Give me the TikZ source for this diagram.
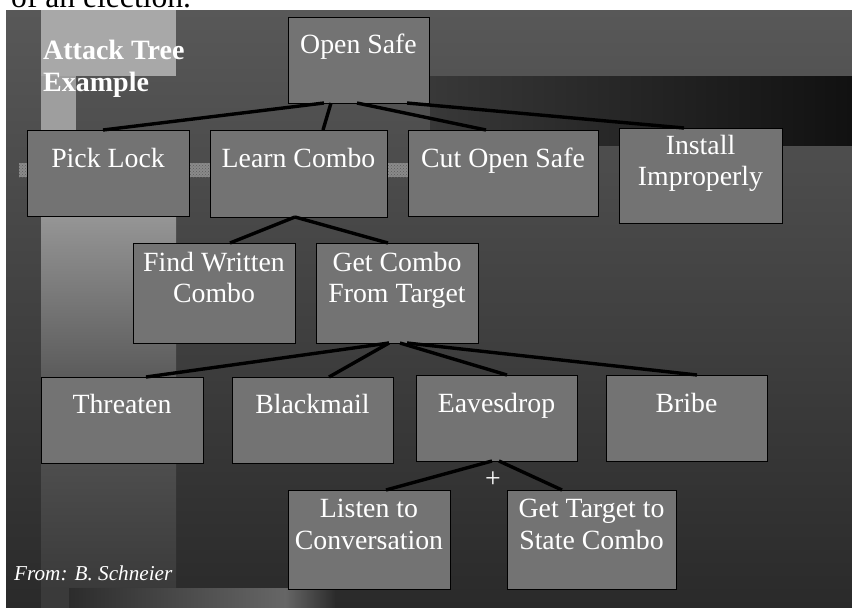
\documentclass[tikz,border=0pt]{standalone}
\usepackage{fontspec}
\setmainfont{Liberation Serif}
\usetikzlibrary{patterns}
\definecolor{boxfill}{HTML}{737373}
\definecolor{bgtop}{HTML}{585858}
\definecolor{bgbot}{HTML}{2A2A2A}
\definecolor{striplight}{HTML}{A8A8A8}
\definecolor{stripmid}{HTML}{9E9E9E}
\definecolor{stripa}{HTML}{959595}
\definecolor{stripb}{HTML}{5A5A5A}
\definecolor{stripc}{HTML}{3A3A3A}
\definecolor{bandl}{HTML}{383838}
\definecolor{bandr}{HTML}{111111}
\definecolor{glowdark}{HTML}{2C2C2C}
\definecolor{glowlight}{HTML}{666666}
\definecolor{noise}{HTML}{8A8A8A}
\definecolor{noisedot}{HTML}{5E5E5E}
\begin{document}
\begin{tikzpicture}[x=1pt,y=-1pt,
  box/.style={draw=black, line width=0.8pt, fill=boxfill, inner sep=0pt, outer sep=0pt},
  lbl/.style={text=white, font=\fontsize{27.8}{31}\selectfont, anchor=base, inner sep=0pt},
  conn/.style={line width=3.4pt, draw=black}
]
\useasboundingbox (0,0) rectangle (852,608);
\clip (0,0) rectangle (852,608);
% page background
\fill[white] (0,0) rectangle (852,608);
\node[anchor=base west, inner sep=0pt, font=\fontsize{31.6}{36}\selectfont] (toptext) at (-12.7,7) {y of an election.};
% slide background
\shade[top color=bgtop, bottom color=bgbot] (6,10) rectangle (852,608);
\fill[striplight] (41,10) rectangle (176,76);
\fill[stripmid] (41,76) rectangle (76,217);
\shade[top color=stripa, bottom color=stripb] (41,217) rectangle (176,380);
\shade[top color=stripb, bottom color=stripc] (41,380) rectangle (176,590);
\fill[stripc] (41,590) rectangle (69,608);
\shade[left color=bandl, right color=bandr] (430,76) rectangle (852,145);
\shade[left color=glowdark, right color=glowlight] (69,588) rectangle (285,608);
\shade[left color=glowlight, right color=glowdark] (285,588) rectangle (335,608);
% speckled patches
\foreach \xa/\xb in {19/27, 189/210, 387/408}{
  \fill[noise] (\xa,163) rectangle (\xb,177);
  \fill[pattern=crosshatch dots, pattern color=noisedot] (\xa,163) rectangle (\xb,177);
}
% title and credit
\node[anchor=base west, inner sep=0pt, text=white, font=\bfseries\fontsize{28}{32}\selectfont] (t1) at (43,59) {Attack Tree};
\node[anchor=base west, inner sep=0pt, text=white, font=\bfseries\fontsize{28}{32}\selectfont] (t2) at (43,91) {Example};
\node[anchor=base west, inner sep=0pt, text=white, font=\itshape\fontsize{21.2}{25}\selectfont] (credit) at (14,580) {From: B. Schneier};
% boxes
\node[box, minimum width=141pt, minimum height=86pt] (os) at (358.5,60) {};
\node[box, minimum width=162pt, minimum height=86pt] (pl) at (108,173) {};
\node[box, minimum width=177pt, minimum height=87pt] (lc) at (298.5,173.5) {};
\node[box, minimum width=190pt, minimum height=86pt] (co) at (503,173) {};
\node[box, minimum width=163pt, minimum height=95pt] (ii) at (700.5,175.5) {};
\node[box, minimum width=162pt, minimum height=100pt] (fw) at (214,293) {};
\node[box, minimum width=162pt, minimum height=100pt] (gc) at (397,293) {};
\node[box, minimum width=162pt, minimum height=86pt] (th) at (122,420) {};
\node[box, minimum width=161pt, minimum height=86pt] (bm) at (312.5,420) {};
\node[box, minimum width=161pt, minimum height=86pt] (ed) at (496.5,418) {};
\node[box, minimum width=161pt, minimum height=86pt] (br) at (686.5,418) {};
\node[box, minimum width=162pt, minimum height=99pt] (ls) at (369,539.5) {};
\node[box, minimum width=169pt, minimum height=99pt] (gt) at (591.5,539.5) {};
% labels
\node[lbl] at ([yshift=-36pt]os.north) {Open Safe};
\node[lbl] at ([yshift=-37pt]pl.north) {Pick Lock};
\node[lbl] at ([yshift=-37pt]lc.north) {Learn Combo};
\node[lbl] at ([yshift=-37pt]co.north) {Cut Open Safe};
\node[lbl] at ([yshift=-26pt]ii.north) {Install};
\node[lbl] at ([yshift=-57pt]ii.north) {Improperly};
\node[lbl] at ([yshift=-28pt]fw.north) {Find Written};
\node[lbl] at ([yshift=-59pt]fw.north) {Combo};
\node[lbl] at ([yshift=-28pt]gc.north) {Get Combo};
\node[lbl] at ([yshift=-59pt]gc.north) {From Target};
\node[lbl] at ([yshift=-36pt]th.north) {Threaten};
\node[lbl] at ([yshift=-36pt]bm.north) {Blackmail};
\node[lbl] at ([yshift=-37pt]ed.north) {Eavesdrop};
\node[lbl] at ([yshift=-37pt]br.north) {Bribe};
\node[lbl] at ([yshift=-27pt]ls.north) {Listen to};
\node[lbl] at ([yshift=-59pt]ls.north) {Conversation};
\node[lbl] at ([yshift=-27pt]gt.north) {Get Target to};
\node[lbl] at ([yshift=-59pt]gt.north) {State Combo};
% connectors
\draw[conn] ([xshift=36pt]os.south west) -- ([xshift=76pt]pl.north west);
\draw[conn] ([xshift=43pt]os.south west) -- ([xshift=113pt]lc.north west);
\draw[conn] ([xshift=69pt]os.south west) -- ([xshift=78pt]co.north west);
\draw[conn] ([xshift=119pt]os.south west) -- ([xshift=65pt]ii.north west);
\draw[conn] ([xshift=85pt]lc.south west) -- ([xshift=97pt]fw.north west);
\draw[conn] ([xshift=85pt]lc.south west) -- ([xshift=72pt]gc.north west);
\draw[conn] ([xshift=73pt]gc.south west) -- ([xshift=105pt]th.north west);
\draw[conn] ([xshift=73pt]gc.south west) -- ([xshift=97pt]bm.north west);
\draw[conn] ([xshift=84pt]gc.south west) -- ([xshift=91pt]ed.north west);
\draw[conn] ([xshift=91pt]gc.south west) -- ([xshift=91pt]br.north west);
\draw[conn] ([xshift=76pt]ed.south west) -- ([xshift=98pt]ls.north west);
\draw[conn] ([xshift=83pt]ed.south west) -- ([xshift=55pt]gt.north west);
\node[text=white, inner sep=0pt, font=\fontsize{27.8}{31}\selectfont] (andmark) at (493,480) {+};
\end{tikzpicture}
\end{document}
